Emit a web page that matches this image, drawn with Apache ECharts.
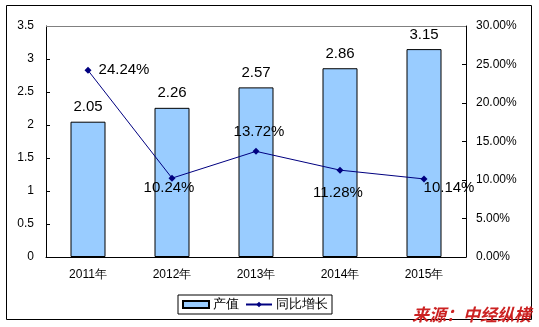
<!DOCTYPE html>
<html>
<head>
<meta charset="utf-8">
<script src="https://cdn.jsdelivr.net/npm/echarts@6/dist/echarts.min.js"></script>
<style>
  html, body { margin: 0; padding: 0; background: #fff; }
  #chart { width: 539px; height: 327px; }
</style>
</head>
<body>
<div id="chart"></div>
<script>
// Annual output value and year-on-year growth, 2011-2015
var years = ['2011年', '2012年', '2013年', '2014年', '2015年'];
var outputValue = [2.05, 2.26, 2.57, 2.86, 3.15];
var growthPct = [24.24, 10.24, 13.72, 11.28, 10.14];

// Where each growth label sits relative to its point (pixels)
var growthLabelOffsets = [[36, 0], [-3, 10], [3, -19], [-2, 23], [25, 9]];

var FONT = '"Liberation Sans", Arial, sans-serif';

var chart = echarts.init(document.getElementById('chart'), null, { renderer: 'canvas' });

chart.setOption({
  backgroundColor: '#ffffff',
  animation: false,
  textStyle: { fontFamily: FONT, color: '#000' },
  grid: { left: 46, right: 73, top: 26, bottom: 70, containLabel: false },
  legend: {
    left: 178,
    top: 295,
    padding: [3, 4, 3, 4],
    itemGap: 6,
    itemWidth: 26,
    itemHeight: 7,
    borderColor: '#000',
    borderWidth: 1,
    backgroundColor: '#fff',
    textStyle: { fontFamily: FONT, fontSize: 13, color: '#000', padding: [0, 0, 0, -1] },
    data: [{ name: '产值', icon: 'rect' }, { name: '同比增长' }]
  },
  xAxis: {
    type: 'category',
    data: years,
    boundaryGap: true,
    axisLine: { lineStyle: { color: '#000', width: 1 } },
    axisTick: { inside: true, length: 4, lineStyle: { color: '#000' } },
    axisLabel: { fontSize: 12, color: '#000', margin: 12, fontFamily: FONT },
    splitLine: { show: false }
  },
  yAxis: [
    {
      type: 'value',
      min: 0,
      max: 3.5,
      interval: 0.5,
      axisLine: { show: true, lineStyle: { color: '#000', width: 1 } },
      axisTick: { show: true, inside: true, length: 4, lineStyle: { color: '#000' } },
      axisLabel: { fontSize: 12, color: '#000', margin: 12, fontFamily: FONT },
      splitLine: { show: false }
    },
    {
      type: 'value',
      min: 0,
      max: 30,
      interval: 5,
      position: 'right',
      axisLine: { show: true, lineStyle: { color: '#000', width: 1 } },
      axisTick: { show: true, inside: true, length: 4, lineStyle: { color: '#000' } },
      axisLabel: {
        fontSize: 12, color: '#000', margin: 10, fontFamily: FONT,
        formatter: function (v) { return v.toFixed(2) + '%'; }
      },
      splitLine: { show: false }
    }
  ],
  series: [
    {
      name: '产值',
      type: 'bar',
      yAxisIndex: 0,
      data: outputValue,
      barWidth: 35,
      itemStyle: { color: '#99CCFF', borderColor: '#000', borderWidth: 1, borderRadius: 0 },
      label: {
        show: true,
        position: 'top',
        distance: 7,
        fontSize: 15,
        color: '#000',
        fontFamily: FONT,
        formatter: function (p) { return p.value.toFixed(2); }
      },
      markLine: {
        silent: true,
        symbol: 'none',
        label: { show: false },
        lineStyle: { color: '#808080', width: 1, type: 'solid' },
        data: [{ yAxis: 3.5 }]
      },
      z: 2
    },
    {
      name: '同比增长',
      type: 'line',
      yAxisIndex: 1,
      data: growthPct.map(function (v, i) {
        return {
          value: v,
          label: { position: 'inside', offset: growthLabelOffsets[i] }
        };
      }),
      symbol: 'diamond',
      symbolSize: 7,
      lineStyle: { color: '#000080', width: 1 },
      itemStyle: { color: '#000080' },
      label: {
        show: true,
        fontSize: 15,
        color: '#000',
        fontFamily: FONT,
        formatter: function (p) { return p.value.toFixed(2) + '%'; }
      },
      z: 3
    }
  ],
  graphic: [
    {
      type: 'rect',
      shape: { x: 6.5, y: 5.5, width: 525, height: 314 },
      style: { fill: 'none', stroke: '#000', lineWidth: 1 },
      silent: true,
      z: 0
    },
    {
      type: 'text',
      right: 8,
      top: 306,
      style: {
        text: '来源：中经纵横',
        fill: '#cc2222',
        font: 'italic bold 17px "Noto Sans CJK SC", sans-serif'
      },
      z: 10
    }
  ]
});
</script>
</body>
</html>
